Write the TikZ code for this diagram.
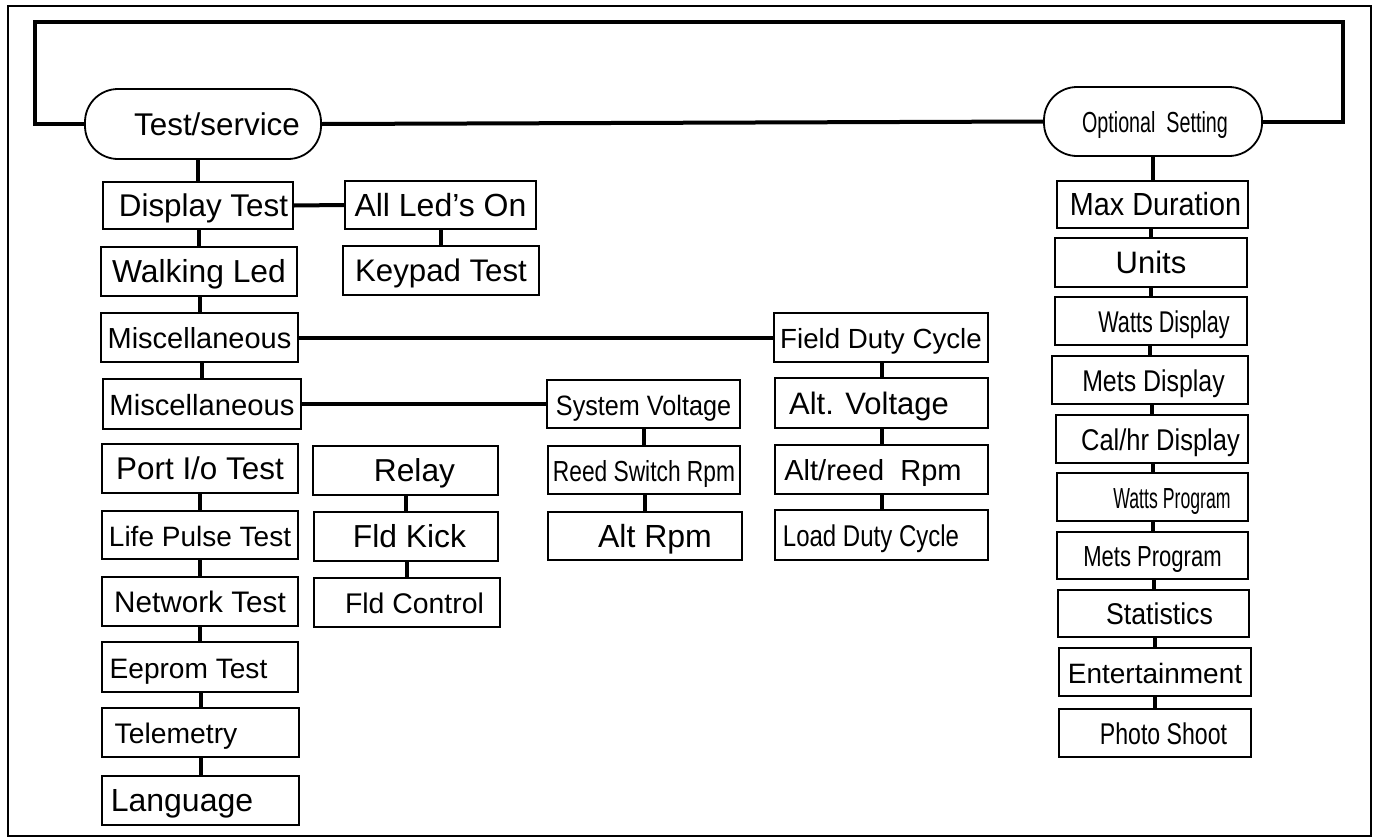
\documentclass[tikz,border=0pt]{standalone}
\usepackage{fontspec}
\setmainfont{Liberation Sans}
\newcommand{\fs}[1]{\fontsize{#1}{#1}\selectfont}
\newcommand{\nfs}[2]{\fontspec{Liberation Sans}[FakeStretch=#2]\fontsize{#1}{#1}\selectfont}

\begin{document}
\begin{tikzpicture}[x=1pt,y=-1pt,
    box/.style={rectangle,draw,line width=1.8pt,inner sep=0pt,text height=22pt,text depth=0pt},
    oval/.style={rectangle,draw,rounded corners=33pt,line width=1.8pt,inner sep=0pt,text height=22pt,text depth=0pt},
    link/.style={line width=4pt}]
    \useasboundingbox (0,0) rectangle (1376,838);
    \draw[line width=1.5pt] (8,6) rectangle (1371,836);

    \node[oval,minimum width=236pt,minimum height=70pt,font=\fs{31.4}] (tests) at (203,124) {\hspace*{28pt}Test/service};
    \node[oval,minimum width=218pt,minimum height=69pt,font=\nfs{29}{0.68}] (opt) at (1153,121.5) {\hspace*{4pt}Optional~~Setting};
    \draw[link] (tests.east) -- (opt.west);

    \coordinate (loopL) at (35,22);
    \coordinate (loopR) at (1343,22);
    \draw[link] (tests.west) -| (loopL) -- (loopR) |- (opt.east);

    \node[box,minimum width=190pt,minimum height=47pt,font=\fs{31.4}] (disp) at (198,205.5) {\hspace*{11pt}Display Test};
    \draw[link] (disp.north) -- (disp.north |- tests.south);

    \node[box,minimum width=196pt,minimum height=49pt,font=\fs{31.8}] (walk) at (199,271.5) {Walking Led};
    \draw[link] (walk.north) -- (walk.north |- disp.south);

    \node[box,minimum width=197pt,minimum height=49pt,font=\fs{29}] (misc1) at (199.5,337.5) {Miscellaneous};
    \draw[link] (misc1.north) -- (misc1.north |- walk.south);

    \node[box,minimum width=198pt,minimum height=50pt,font=\fs{29.2}] (misc2) at (202,404) {Miscellaneous};
    \draw[link] (misc2.north) -- (misc2.north |- misc1.south);

    \node[box,minimum width=196pt,minimum height=49pt,font=\fs{31.4}] (port) at (200,468.5) {Port I/o Test};

    \node[box,minimum width=196pt,minimum height=48pt,font=\fs{28}] (life) at (200,535) {Life Pulse Test};
    \draw[link] (life.north) -- (life.north |- port.south);

    \node[box,minimum width=196pt,minimum height=49pt,font=\fs{29.7}] (net) at (200,601.5) {Network Test};
    \draw[link] (net.north) -- (net.north |- life.south);

    \node[box,minimum width=196pt,minimum height=50pt,font=\fs{28.1}] (eep) at (200,667) {Eeprom Test\hspace*{23pt}};
    \draw[link] (eep.north) -- (eep.north |- net.south);

    \node[box,minimum width=197pt,minimum height=49pt,font=\fs{28.3}] (tele) at (200.5,732.5) {Telemetry\hspace*{49pt}};
    \draw[link] (tele.north) -- (tele.north |- eep.south);

    \node[box,minimum width=197pt,minimum height=49pt,font=\fs{32}] (lang) at (200.5,800.5) {Language\hspace*{37pt}};
    \draw[link] (lang.north) -- (lang.north |- tele.south);

    \node[box,minimum width=191pt,minimum height=48pt,font=\fs{32}] (alled) at (440.5,205) {All Led’s On};
    \draw[link] (disp.east) -- (alled.west);

    \node[box,minimum width=196pt,minimum height=49pt,font=\fs{31.2}] (keypad) at (441,270.5) {Keypad Test};
    \draw[link] (keypad.north) -- (keypad.north |- alled.south);

    \node[box,minimum width=185pt,minimum height=49pt,font=\fs{31.7}] (relay) at (405.5,470.5) {\hspace*{18pt}Relay};

    \node[box,minimum width=184pt,minimum height=49pt,font=\fs{31.8}] (kick) at (406,536.5) {\hspace*{7pt}Fld Kick};
    \draw[link] (kick.north) -- (kick.north |- relay.south);

    \node[box,minimum width=186pt,minimum height=49pt,font=\fs{28.4}] (fctrl) at (407,602.5) {\hspace*{15pt}Fld Control};
    \draw[link] (fctrl.north) -- (fctrl.north |- kick.south);

    \node[box,minimum width=193pt,minimum height=48pt,font=\nfs{28}{0.9}] (sysv) at (643.5,404) {System Voltage};
    \draw[link] (misc2.east) -- (sysv.west);

    \node[box,minimum width=192pt,minimum height=48pt,font=\nfs{29}{0.785}] (reed) at (644,470) {Reed Switch Rpm};
    \draw[link] (reed.north) -- (reed.north |- sysv.south);

    \node[box,minimum width=194pt,minimum height=48pt,font=\fs{32}] (altrpm) at (645,536) {\hspace*{20pt}Alt Rpm};
    \draw[link] (altrpm.north) -- (altrpm.north |- reed.south);

    \node[box,minimum width=214pt,minimum height=49pt,font=\fs{27.7}] (fdc) at (881,337.5) {Field Duty Cycle};
    \draw[link] (misc1.east) -- (fdc.west);

    \node[box,minimum width=213pt,minimum height=50pt,font=\fs{31}] (altv) at (881.5,403) {Alt. Voltage\hspace*{25pt}};
    \draw[link] (altv.north) -- (altv.north |- fdc.south);

    \node[box,minimum width=213pt,minimum height=49pt,font=\fs{29}] (altreed) at (881.5,469.5) {Alt/reed~~Rpm\hspace*{17pt}};
    \draw[link] (altreed.north) -- (altreed.north |- altv.south);

    \node[box,minimum width=213pt,minimum height=50pt,font=\nfs{30}{0.8}] (ldc) at (881.5,535) {Load Duty Cycle\hspace*{21pt}};
    \draw[link] (ldc.north) -- (ldc.north |- altreed.south);

    \node[box,minimum width=191pt,minimum height=47pt,font=\nfs{32}{0.9}] (maxd) at (1152.5,204.5) {\hspace*{6pt}Max Duration};
    \draw[link] (maxd.north) -- (maxd.north |- opt.south);

    \node[box,minimum width=192pt,minimum height=49pt,font=\fs{31}] (units) at (1151,262.5) {Units};
    \draw[link] (units.north) -- (units.north |- maxd.south);

    \node[box,minimum width=192pt,minimum height=48pt,font=\nfs{30}{0.72}] (wattsd) at (1151,321) {\hspace*{26pt}Watts Display};
    \draw[link] (wattsd.north) -- (wattsd.north |- units.south);

    \node[box,minimum width=196pt,minimum height=48pt,font=\nfs{30}{0.83}] (metsd) at (1150,380) {\hspace*{7pt}Mets Display};
    \draw[link] (metsd.north) -- (metsd.north |- wattsd.south);

    \node[box,minimum width=192pt,minimum height=48pt,font=\nfs{30}{0.85}] (cald) at (1152,439) {\hspace*{17pt}Cal/hr Display};
    \draw[link] (cald.north) -- (cald.north |- metsd.south);

    \node[box,minimum width=191pt,minimum height=48pt,font=\nfs{29}{0.61}] (wattsp) at (1152.5,497) {\hspace*{39pt}Watts Program};
    \draw[link] (wattsp.north) -- (wattsp.north |- cald.south);

    \node[box,minimum width=191pt,minimum height=47pt,font=\nfs{29}{0.76}] (metsp) at (1152.5,555.5) {Mets Program};
    \draw[link] (metsp.north) -- (metsp.north |- wattsp.south);

    \node[box,minimum width=191pt,minimum height=47pt,font=\nfs{30}{0.89}] (stats) at (1153.5,613.5) {\hspace*{12pt}Statistics};
    \draw[link] (stats.north) -- (stats.north |- metsp.south);

    \node[box,minimum width=192pt,minimum height=48pt,font=\fs{28}] (ent) at (1155,672) {Entertainment};
    \draw[link] (ent.north) -- (ent.north |- stats.south);

    \node[box,minimum width=192pt,minimum height=48pt,font=\nfs{30}{0.77}] (photo) at (1155,733) {\hspace*{17pt}Photo Shoot};
    \draw[link] (photo.north) -- (photo.north |- ent.south);
\end{tikzpicture}
\end{document}
